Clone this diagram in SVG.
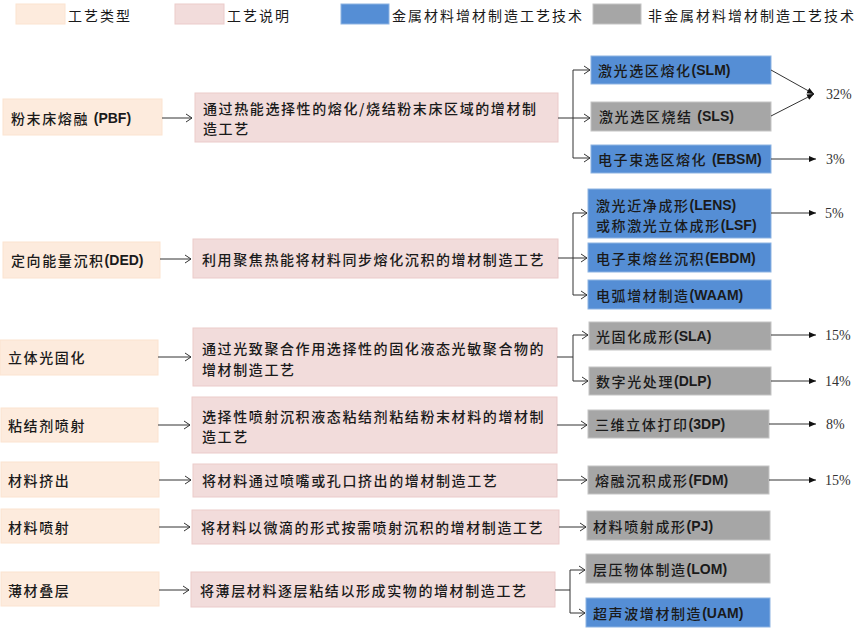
<svg xmlns="http://www.w3.org/2000/svg" width="865" height="628" viewBox="0 0 865 628">
<defs>
<marker id="open" markerUnits="userSpaceOnUse" markerWidth="10" markerHeight="10" refX="7" refY="5" orient="auto">
<path d="M1,1 L7,5 L1,9" fill="none" stroke="#333" stroke-width="1"/>
</marker>
<marker id="fill" markerUnits="userSpaceOnUse" markerWidth="10" markerHeight="10" refX="7" refY="3.5" orient="auto">
<path d="M0,0.5 L7,3.5 L0,6.5 z" fill="#111"/>
</marker>
</defs>
<style>
text{font-family:'Noto Sans CJK SC','Noto Sans',sans-serif;font-size:14px;font-weight:500;fill:#1a1a1a;letter-spacing:1.6px;dominant-baseline:central}
.lat{font-family:'Liberation Sans',sans-serif;font-weight:bold;letter-spacing:0}
.leg{font-size:14px;letter-spacing:2px;font-weight:400}
.pct{font-family:'Liberation Serif',serif;font-size:14px;font-weight:400;fill:#333;letter-spacing:0}
.type{fill:#FDEBDD;stroke:#FBE3D0;stroke-width:1}
.desc{fill:#F2DCDB;stroke:#EBCBCA;stroke-width:1}
.metal{fill:#558ED5;stroke:#8DB3E2;stroke-width:1}
.non{fill:#A6A6A6;stroke:#C4C4C4;stroke-width:1}
.c{fill:none;stroke:#333;stroke-width:1}
.a{fill:none;stroke:#333;stroke-width:1;marker-end:url(#open)}
.f{fill:none;stroke:#333;stroke-width:1;marker-end:url(#fill)}
</style>
<rect width="865" height="628" fill="#fff"/>

<g id="legend">
<rect class="type" x="16" y="4" width="49" height="20"/><text class="leg" x="68" y="15">工艺类型</text>
<rect class="desc" x="175" y="4" width="49" height="20"/><text class="leg" x="227" y="15">工艺说明</text>
<rect class="metal" x="341" y="4" width="48" height="20"/><text class="leg" x="392" y="15">金属材料增材制造工艺技术</text>
<rect class="non" x="593" y="4" width="48" height="20"/><text class="leg" x="648" y="15">非金属材料增材制造工艺技术</text>
</g>

<g id="type-pbf"><rect class="type" x="3" y="99" width="159" height="36"/><text x="11" y="118">粉末床熔融 <tspan class="lat">(PBF)</tspan></text></g>
<g id="type-ded"><rect class="type" x="3" y="242" width="157" height="36"/><text x="11" y="260">定向能量沉积<tspan class="lat">(DED)</tspan></text></g>
<g id="type-sla"><rect class="type" x="0" y="340" width="158" height="35"/><text x="8" y="357">立体光固化</text></g>
<g id="type-bj"><rect class="type" x="1" y="408" width="157" height="34"/><text x="8" y="425">粘结剂喷射</text></g>
<g id="type-me"><rect class="type" x="1" y="462" width="158" height="35"/><text x="8" y="480">材料挤出</text></g>
<g id="type-mj"><rect class="type" x="1" y="509" width="158" height="34"/><text x="8" y="527">材料喷射</text></g>
<g id="type-sl"><rect class="type" x="1" y="572" width="158" height="34"/><text x="8" y="590">薄材叠层</text></g>

<g id="desc-pbf"><rect class="desc" x="195" y="93" width="363" height="49"/><text x="203" y="108">通过热能选择性的熔化/烧结粉末床区域的增材制</text><text x="203" y="128">造工艺</text></g>
<g id="desc-ded"><rect class="desc" x="193" y="239" width="365" height="39"/><text x="202" y="259">利用聚焦热能将材料同步熔化沉积的增材制造工艺</text></g>
<g id="desc-sla"><rect class="desc" x="193" y="328" width="364" height="58"/><text x="202" y="348">通过光致聚合作用选择性的固化液态光敏聚合物的</text><text x="202" y="369">增材制造工艺</text></g>
<g id="desc-bj"><rect class="desc" x="192" y="397" width="365" height="56"/><text x="202" y="416">选择性喷射沉积液态粘结剂粘结粉末材料的增材制</text><text x="202" y="436">造工艺</text></g>
<g id="desc-me"><rect class="desc" x="193" y="464" width="364" height="33"/><text x="202" y="480">将材料通过喷嘴或孔口挤出的增材制造工艺</text></g>
<g id="desc-mj"><rect class="desc" x="192" y="510" width="367" height="34"/><text x="201" y="527">将材料以微滴的形式按需喷射沉积的增材制造工艺</text></g>
<g id="desc-sl"><rect class="desc" x="191" y="572" width="364" height="35"/><text x="200" y="590">将薄层材料逐层粘结以形成实物的增材制造工艺</text></g>

<g id="tech-slm"><rect class="metal" x="591" y="56" width="180" height="28"/><text x="598" y="70">激光选区熔化<tspan class="lat">(SLM)</tspan></text></g>
<g id="tech-sls"><rect class="non" x="591" y="102" width="180" height="29"/><text x="599" y="116">激光选区烧结 <tspan class="lat">(SLS)</tspan></text></g>
<g id="tech-ebsm"><rect class="metal" x="591" y="145" width="180" height="28"/><text x="598" y="159">电子束选区熔化 <tspan class="lat">(EBSM)</tspan></text></g>
<g id="tech-lens"><rect class="metal" x="588" y="189" width="183" height="49"/><text x="596" y="205">激光近净成形<tspan class="lat">(LENS)</tspan></text><text x="596" y="225">或称激光立体成形<tspan class="lat">(LSF)</tspan></text></g>
<g id="tech-ebdm"><rect class="metal" x="588" y="243" width="183" height="29"/><text x="596" y="258">电子束熔丝沉积<tspan class="lat">(EBDM)</tspan></text></g>
<g id="tech-waam"><rect class="metal" x="588" y="280" width="183" height="29"/><text x="596" y="295">电弧增材制造<tspan class="lat">(WAAM)</tspan></text></g>
<g id="tech-sla"><rect class="non" x="589" y="322" width="182" height="28"/><text x="596" y="336">光固化成形<tspan class="lat">(SLA)</tspan></text></g>
<g id="tech-dlp"><rect class="non" x="589" y="367" width="182" height="28"/><text x="596" y="381">数字光处理<tspan class="lat">(DLP)</tspan></text></g>
<g id="tech-3dp"><rect class="non" x="588" y="410" width="181" height="28"/><text x="595" y="424">三维立体打印<tspan class="lat">(3DP)</tspan></text></g>
<g id="tech-fdm"><rect class="non" x="588" y="466" width="181" height="28"/><text x="595" y="480">熔融沉积成形<tspan class="lat">(FDM)</tspan></text></g>
<g id="tech-pj"><rect class="non" x="587" y="511" width="183" height="29"/><text x="593" y="526">材料喷射成形<tspan class="lat">(PJ)</tspan></text></g>
<g id="tech-lom"><rect class="non" x="586" y="554" width="184" height="29"/><text x="593" y="569">层压物体制造<tspan class="lat">(LOM)</tspan></text></g>
<g id="tech-uam"><rect class="metal" x="586" y="598" width="184" height="29"/><text x="593" y="613">超声波增材制造<tspan class="lat">(UAM)</tspan></text></g>

<g id="pcts">
<text class="pct" x="826" y="94">32%</text>
<text class="pct" x="826" y="159">3%</text>
<text class="pct" x="825" y="213">5%</text>
<text class="pct" x="825" y="335">15%</text>
<text class="pct" x="825" y="381">14%</text>
<text class="pct" x="826" y="424">8%</text>
<text class="pct" x="825" y="480">15%</text>
</g>

<g id="connectors">
<line class="a" x1="162" y1="118" x2="192" y2="118"/>
<line class="a" x1="160" y1="259" x2="191" y2="259"/>
<line class="a" x1="158" y1="357" x2="191" y2="357"/>
<line class="a" x1="158" y1="425" x2="190" y2="425"/>
<line class="a" x1="159" y1="480" x2="191" y2="480"/>
<line class="a" x1="159" y1="527" x2="190" y2="527"/>
<line class="a" x1="159" y1="590" x2="189" y2="590"/>

<path class="c" d="M558,118 H573 M573,70 V158"/>
<line class="a" x1="573" y1="70" x2="590" y2="70"/>
<line class="a" x1="573" y1="118" x2="590" y2="118"/>
<line class="a" x1="573" y1="158" x2="590" y2="158"/>

<path class="c" d="M558,258 H573 M573,213 V295"/>
<line class="a" x1="573" y1="213" x2="587" y2="213"/>
<line class="a" x1="573" y1="258" x2="587" y2="258"/>
<line class="a" x1="573" y1="295" x2="587" y2="295"/>

<path class="c" d="M557,357 H573 M573,335 V381"/>
<line class="a" x1="573" y1="335" x2="588" y2="335"/>
<line class="a" x1="573" y1="381" x2="588" y2="381"/>

<line class="a" x1="557" y1="425" x2="587" y2="425"/>
<line class="a" x1="557" y1="480" x2="587" y2="480"/>
<line class="a" x1="559" y1="527" x2="586" y2="527"/>

<path class="c" d="M555,590 H570 M570,570 V613"/>
<line class="a" x1="570" y1="570" x2="585" y2="570"/>
<line class="a" x1="570" y1="613" x2="585" y2="613"/>

<line class="f" x1="771" y1="70" x2="814" y2="94"/>
<line class="f" x1="771" y1="116" x2="814" y2="94"/>
<line class="f" x1="771" y1="159" x2="816" y2="159"/>
<line class="f" x1="771" y1="213" x2="816" y2="213"/>
<line class="f" x1="771" y1="335" x2="816" y2="335"/>
<line class="f" x1="771" y1="381" x2="816" y2="381"/>
<line class="f" x1="769" y1="424" x2="816" y2="424"/>
<line class="f" x1="769" y1="480" x2="816" y2="480"/>
</g>
</svg>
